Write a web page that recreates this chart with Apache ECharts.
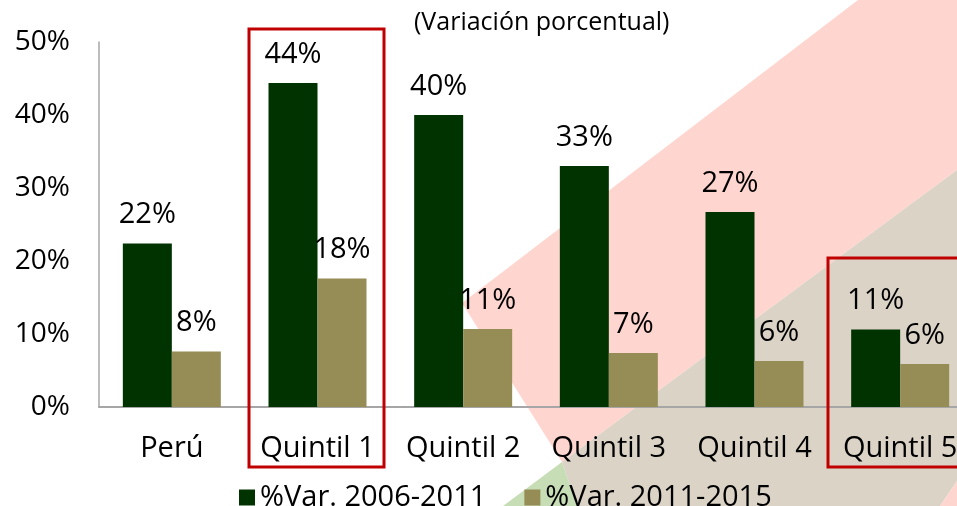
<!DOCTYPE html>
<html>
<head>
<meta charset="utf-8">
<script src="https://cdn.jsdelivr.net/npm/echarts@6/dist/echarts.min.js"></script>
<style>
  html, body { margin: 0; padding: 0; background: #fff; }
  #chart { width: 957px; height: 506px; }
</style>
</head>
<body>
<div id="chart"></div>
<script>
// datos
var categorias = ['Perú', 'Quintil 1', 'Quintil 2', 'Quintil 3', 'Quintil 4', 'Quintil 5'];
var var2006_2011 = [22.4, 44.4, 40.0, 33.0, 26.7, 10.6];
var var2011_2015 = [7.6, 17.6, 10.7, 7.4, 6.3, 5.9];
var nombresSeries = ['%Var. 2006-2011', '%Var. 2011-2015'];
var ticksY = [0, 10, 20, 30, 40, 50];

var fuente = '"Open Sans", "Noto Sans", sans-serif';
var chart = echarts.init(document.getElementById('chart'));

function etiqueta(p) {
    return Math.round(p.value) + '%';
}

var option = {
    animation: false,
    backgroundColor: '#fff',
    textStyle: { fontFamily: fuente },
    // fondo decorativo (franjas diagonales) y recuadros rojos
    graphic: [
        { type: 'polygon', z: -10, shape: { points: [[462, 303], [858, 0], [957, 0], [957, 170], [562, 462]] }, style: { fill: '#FFD6CF' } },
        { type: 'polygon', z: -10, shape: { points: [[957, 170], [562, 462], [577, 506], [940, 506], [957, 481]] }, style: { fill: '#DBD3C6' } },
        { type: 'polygon', z: -10, shape: { points: [[562, 462], [503, 506], [577, 506]] }, style: { fill: '#C6DDB6' } },
        { type: 'polygon', z: -10, shape: { points: [[957, 481], [940, 506], [957, 506]] }, style: { fill: '#FFD6CF' } },
        { type: 'rect', z: 100, shape: { x: 249, y: 29, width: 135, height: 438 }, style: { fill: 'none', stroke: '#C00000', lineWidth: 3 } },
        { type: 'rect', z: 100, shape: { x: 828, y: 258, width: 140, height: 209 }, style: { fill: 'none', stroke: '#C00000', lineWidth: 3 } },
        { type: 'text', left: 414, top: 10, style: { text: '(Variación porcentual)', font: '25px ' + fuente, fill: '#000' } }
    ],
    legend: {
        left: 234,
        top: 478,
        itemWidth: 16,
        itemHeight: 16,
        itemGap: 38,
        icon: 'rect',
        textStyle: { fontSize: 29, color: '#000', fontFamily: fuente },
        data: nombresSeries
    },
    grid: { left: 99, top: 42, width: 874, height: 365, containLabel: false, outerBoundsMode: 'none' },
    xAxis: {
        type: 'category',
        data: categorias,
        axisLine: { lineStyle: { color: '#A6A6A6', width: 2 } },
        axisTick: { show: false },
        axisLabel: { interval: 0, hideOverlap: false, fontSize: 29, color: '#000', margin: 27, fontFamily: fuente }
    },
    yAxis: {
        type: 'value',
        min: ticksY[0],
        max: ticksY[ticksY.length - 1],
        interval: 10,
        axisLine: { show: true, lineStyle: { color: '#A6A6A6', width: 1.5 } },
        axisTick: { show: false },
        splitLine: { show: false },
        axisLabel: { formatter: '{value}%', fontSize: 28, color: '#000', margin: 29, fontFamily: fuente }
    },
    series: [
        {
            name: nombresSeries[0],
            type: 'bar',
            data: var2006_2011,
            barWidth: 49,
            barGap: '0%',
            itemStyle: { color: '#003300' },
            label: { show: true, position: 'top', distance: 14, formatter: etiqueta, fontSize: 29, color: '#000', fontFamily: fuente }
        },
        {
            name: nombresSeries[1],
            type: 'bar',
            data: var2011_2015,
            barWidth: 49,
            barGap: '0%',
            itemStyle: { color: '#968C55' },
            label: { show: true, position: 'top', distance: 14, formatter: etiqueta, fontSize: 29, color: '#000', fontFamily: fuente }
        }
    ]
};

chart.setOption(option);
</script>
</body>
</html>
